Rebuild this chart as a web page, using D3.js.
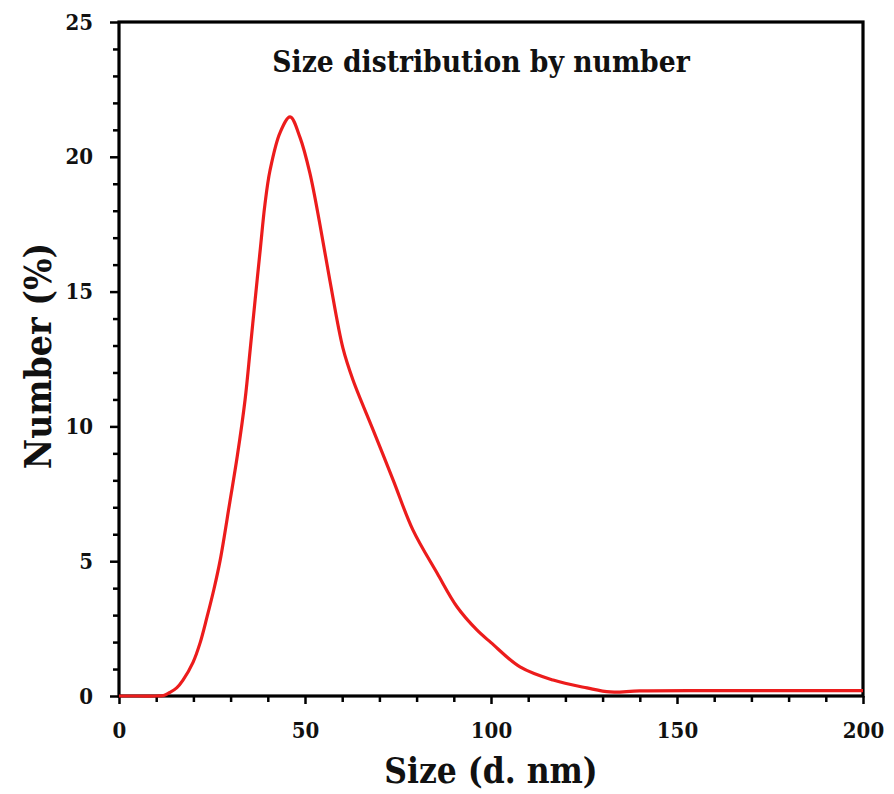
<!DOCTYPE html>
<html>
<head>
<meta charset="utf-8">
<script src="https://cdn.jsdelivr.net/npm/d3@7/dist/d3.min.js"></script>
<style>
  html, body { margin: 0; padding: 0; background: #fff; }
  svg { display: block; }
  text { font-family: "DejaVu Serif Condensed", "DejaVu Serif", serif; font-stretch: condensed; font-weight: bold; fill: #111; }
</style>
</head>
<body>
<script>
// ---- data ----
const sizes   = [0, 5, 10, 12, 13.5, 15.5, 17.2, 19.9, 21.8, 23.7, 25.5, 27.2, 29.8, 31.8, 33.9, 35.3, 36.6, 38, 39.2, 40.6, 43.3, 46, 48.7, 51.3, 54, 56.7, 60.2, 62.9, 68.3, 73.7, 79, 85.5, 90.9, 96.2, 100, 107.8, 116.7, 125.8, 132, 140, 160, 180, 200];
const numbers = [0, 0, 0, 0.02, 0.12, 0.3, 0.59, 1.25, 1.97, 2.95, 3.95, 5.04, 7.2, 8.9, 11.0, 12.9, 14.7, 16.6, 18.2, 19.5, 20.9, 21.48, 20.7, 19.4, 17.5, 15.4, 12.9, 11.72, 9.87, 8.01, 6.16, 4.56, 3.3, 2.45, 1.98, 1.08, 0.59, 0.3, 0.15, 0.19, 0.2, 0.2, 0.2];
const xMajorTicks = [0, 50, 100, 150, 200];
const yMajorTicks = [0, 5, 10, 15, 20, 25];
const titleText = "Size distribution by number";
const xLabel = "Size (d. nm)";
const yLabel = "Number (%)";

const W = 894, H = 794;
const m = { left: 119, right: 894 - 863, top: 22, bottom: 794 - 696 };

const svg = d3.select("body").append("svg").attr("width", W).attr("height", H);

const x = d3.scaleLinear().domain([0, 200]).range([m.left, W - m.right]);
const y = d3.scaleLinear().domain([0, 25]).range([H - m.bottom, m.top]);

const xMinor = d3.range(0, 201, 10).filter(v => !xMajorTicks.includes(v));
const yMinor = d3.range(0, 26, 1).filter(v => !yMajorTicks.includes(v));

// minor ticks
svg.append("g").attr("transform", `translate(0,${y(0)})`)
  .call(d3.axisBottom(x).tickValues(xMinor).tickSize(6).tickFormat(""))
  .call(g => g.select(".domain").remove())
  .call(g => g.selectAll("line").attr("stroke", "#000").attr("stroke-width", 2.5));
svg.append("g").attr("transform", `translate(${x(0)},0)`)
  .call(d3.axisLeft(y).tickValues(yMinor).tickSize(6).tickFormat(""))
  .call(g => g.select(".domain").remove())
  .call(g => g.selectAll("line").attr("stroke", "#000").attr("stroke-width", 2.5));

// major x axis
const gx = svg.append("g").attr("transform", `translate(0,${y(0)})`)
  .call(d3.axisBottom(x).tickValues(xMajorTicks).tickSize(8).tickSizeOuter(0).tickPadding(20));
gx.select(".domain").remove();
gx.selectAll("line").attr("stroke", "#000").attr("stroke-width", 2.5);
gx.selectAll("text").attr("y", 42).attr("dy", 0).style("font-size", "22px").attr("fill", "#111");

// major y axis
const gy = svg.append("g").attr("transform", `translate(${x(0)},0)`)
  .call(d3.axisLeft(y).tickValues(yMajorTicks).tickSize(9).tickSizeOuter(0).tickPadding(17));
gy.select(".domain").remove();
gy.selectAll("line").attr("stroke", "#000").attr("stroke-width", 2.5);
gy.selectAll("text").style("font-size", "22px").attr("fill", "#111");

// frame
svg.append("rect")
  .attr("x", x(0)).attr("y", y(25))
  .attr("width", x(200) - x(0)).attr("height", y(0) - y(25))
  .attr("fill", "none").attr("stroke", "#000").attr("stroke-width", 3.2);

// curve
const line = d3.line().x((d, i) => x(sizes[i])).y((d, i) => y(numbers[i])).curve(d3.curveCatmullRom.alpha(0.5));
svg.append("path")
  .datum(numbers)
  .attr("d", line)
  .attr("fill", "none")
  .attr("stroke", "#ec1c1c")
  .attr("stroke-width", 3.2)
  .attr("stroke-linejoin", "round");

// title
svg.append("text").attr("x", 481).attr("y", 72).attr("text-anchor", "middle")
  .style("font-size", "29.6px").text(titleText);

// axis labels
svg.append("text").attr("x", (x(0) + x(200)) / 2).attr("y", 783).attr("text-anchor", "middle")
  .style("font-size", "35px").text(xLabel);
svg.append("text").attr("transform", `translate(51,356) rotate(-90)`).attr("text-anchor", "middle")
  .style("font-size", "37px").text(yLabel);
</script>
</body>
</html>
